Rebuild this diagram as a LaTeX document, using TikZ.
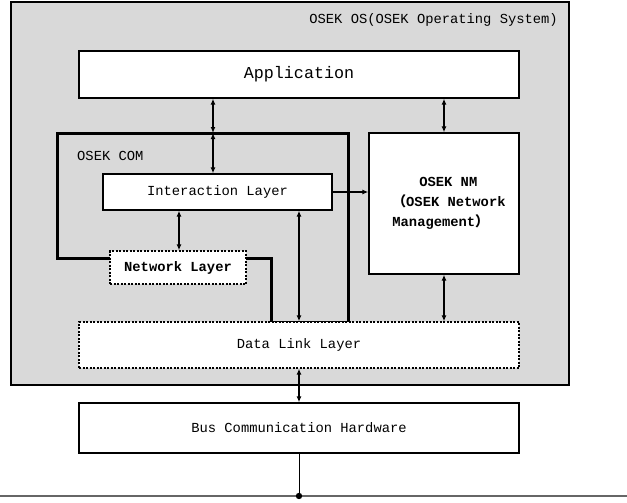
\documentclass[tikz,border=0pt]{standalone}
\usepackage{fontspec}
\setmainfont{Liberation Mono}
\newfontfamily\cjk{Noto Sans CJK KR}
\usetikzlibrary{arrows.meta}
\definecolor{osgray}{HTML}{D9D9D9}
\begin{document}
\begin{tikzpicture}[x=1pt,y=-1pt,
  box/.style={draw=black, line width=1.3pt, fill=white, inner sep=0pt, font=\fontsize{13.8}{16}\selectfont},
  dbox/.style={box, dash pattern=on 2pt off 1.5pt},
  biarr/.style={{Latex[length=6pt,width=5pt]}-{Latex[length=6pt,width=5pt]}, line width=1.3pt},
  arr/.style={-{Latex[length=6pt,width=5pt]}, line width=1.3pt},
  lbl/.style={inner sep=0pt, font=\fontsize{13.8}{16}\selectfont}]
\useasboundingbox (0,0) rectangle (627,503);
\fill[white] (0,0) rectangle (627,503);
% OS box
\node[draw=black, line width=1.3pt, fill=osgray, minimum width=558pt, minimum height=383pt, inner sep=0pt] (os) at (290,193.5) {};
\node[lbl, anchor=east] (ostitle) at (558,20) {OSEK OS(OSEK Operating System)};
% Application
\node[box, minimum width=440pt, minimum height=47pt, font=\fontsize{16.7}{19}\selectfont] (app) at (299,74.5) {Application};
% OSEK COM outline
\draw[line width=3pt, line join=miter] (110,258) -- (57,258) -- (57,133) -- (348,133) -- (348,322) -- (271,322) -- (271,258) -- (246,258);
\node[lbl, anchor=west] (comlbl) at (77,156) {OSEK COM};
% Interaction layer
\node[box, minimum width=229pt, minimum height=36pt] (int) at (217.5,192) {Interaction Layer};
% Network layer
\node[dbox, minimum width=136pt, minimum height=33pt, font=\fontsize{13.8}{16}\selectfont\bfseries] (net) at (178,267.5) {Network Layer};
% NM
\node[box, minimum width=150pt, minimum height=141pt] (nm) at (444,203.5) {};
\node[lbl, align=left, font=\fontsize{13.8}{20}\selectfont\bfseries] (nmtxt) at (449,203) {\hspace*{1.95em}OSEK NM\\{\cjk （}OSEK Network\\Management{\cjk ）}};
% Data link
\node[dbox, minimum width=440pt, minimum height=46pt] (dll) at (299,345) {Data Link Layer};
% Bus HW
\node[box, minimum width=440pt, minimum height=50pt] (bus) at (299,428) {Bus Communication Hardware};
% connectors
\coordinate (comtop) at (213,133);
\draw[biarr] (app.south -| comtop) -- (comtop);
\draw[biarr] (comtop) -- (int.north -| comtop);
\draw[biarr] (app.south -| nm.north) -- (nm.north);
\draw[arr] (int.east) -- (nm.west |- int.east);
\draw[biarr] (int.south -| 179,0) -- (net.north -| 179,0);
\draw[biarr] (int.south -| dll.north) -- (dll.north);
\draw[biarr] (nm.south) -- (dll.north -| nm.south);
\draw[biarr] (dll.south) -- (bus.north);
% bus line
\coordinate (busL) at (0,496);
\coordinate (busR) at (627,496);
\coordinate (dot) at (299,496);
\draw[line width=1.2pt, black!60] (busL) -- (busR);
\draw[line width=1pt] (bus.south) -- (dot);
\fill (dot) circle (3.2pt);
\end{tikzpicture}
\end{document}
